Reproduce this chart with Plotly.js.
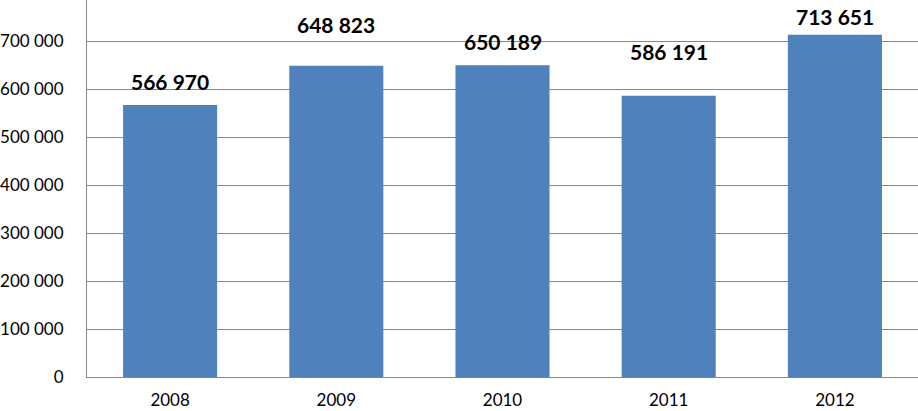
<!DOCTYPE html>
<html>
<head>
<meta charset="utf-8">
<script src="https://cdn.plot.ly/plotly-3.0.1.min.js"></script>
<style>
  html, body { margin: 0; padding: 0; background: #fff; }
  #chart { width: 918px; height: 411px; }
</style>
</head>
<body>
<div id="chart"></div>
<script>
// values
const years = ['2008', '2009', '2010', '2011', '2012'];
const values = [566970, 648823, 650189, 586191, 713651];
const valueLabels = ['566 970', '648 823', '650 189', '586 191', '713 651'];
// label offset above each bar, in px (the original labels sit unevenly)
const labelShift = [24, 41, 24, 44, 18];

const font = 'Lato, "Open Sans", sans-serif';

const chartData = [
    {
        x: years,
        y: values,
        type: 'bar',
        marker: { color: '#4f81bd' },
        hoverinfo: 'none',
    },
];

const labels = years.map((yr, i) => ({
    x: yr,
    y: values[i],
    text: '<b>' + valueLabels[i] + '</b>',
    showarrow: false,
    yanchor: 'middle',
    yshift: labelShift[i],
    font: { family: font, size: 21, color: '#000' },
}));

const layout = {
    width: 918,
    height: 411,
    margin: { l: 87, r: 0, t: 0, b: 34 },
    paper_bgcolor: '#fff',
    plot_bgcolor: '#fff',
    separators: '. ',
    showlegend: false,
    bargap: 0.434,
    font: { family: font, size: 17, color: '#000' },
    xaxis: {
        showline: true,
        linecolor: '#868686',
        linewidth: 1,
        ticks: '',
        tickfont: { size: 17 },
        ticklabelstandoff: 8,
    },
    yaxis: {
        range: [0, 786000],
        dtick: 100000,
        tickformat: ',d',
        showline: true,
        linecolor: '#868686',
        linewidth: 1,
        gridcolor: '#868686',
        gridwidth: 1,
        zeroline: false,
        ticks: '',
        tickfont: { size: 17 },
        ticklabelstandoff: 19,
    },
    annotations: labels,
};

Plotly.newPlot('chart', chartData, layout, { displayModeBar: false, staticPlot: true });
</script>
</body>
</html>
